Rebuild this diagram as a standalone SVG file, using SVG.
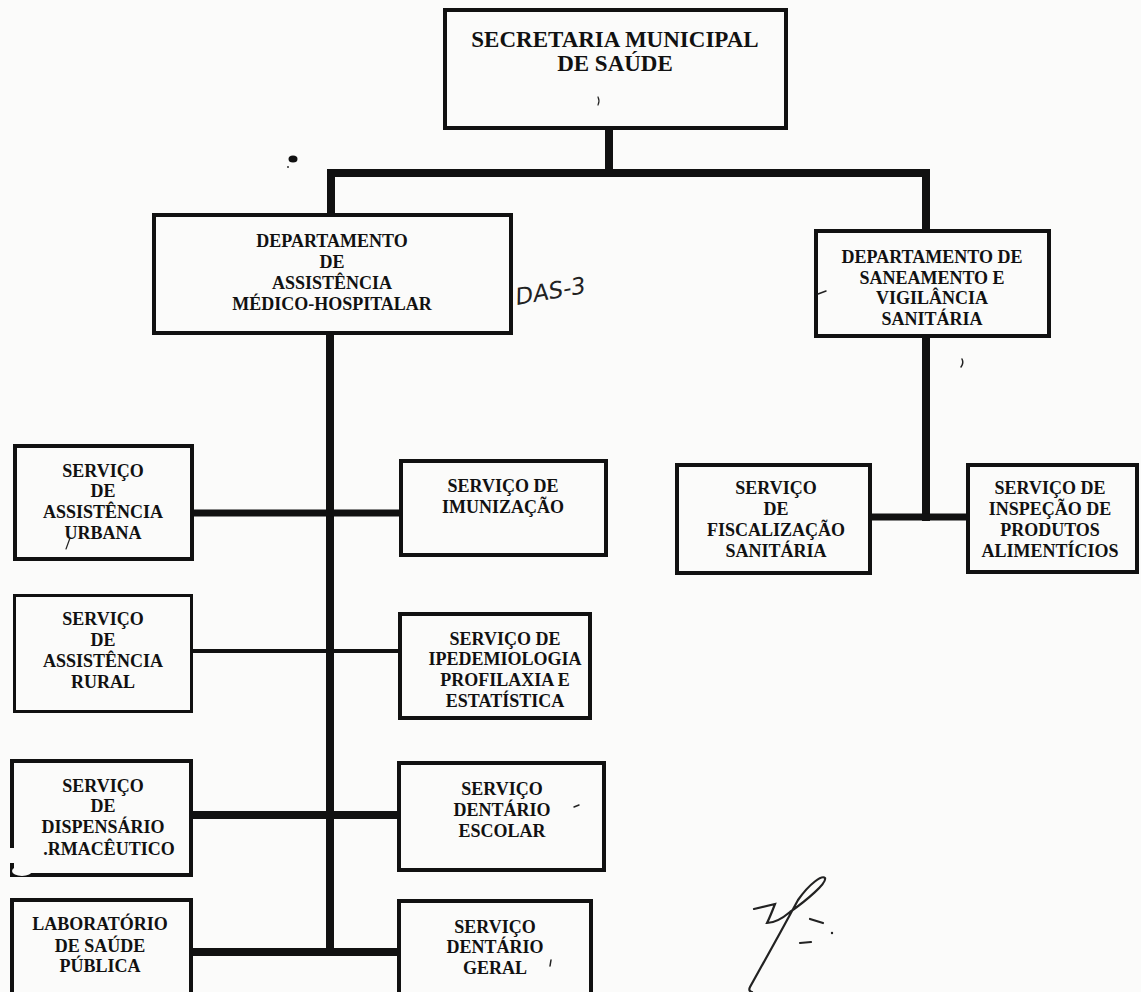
<svg xmlns="http://www.w3.org/2000/svg" width="1141" height="992" viewBox="0 0 1141 992">
  <style>
    .box { fill: none; stroke: #111; stroke-width: 4; }
    .thin { stroke-width: 3; }
    .t { font-family: "Liberation Serif", "Times New Roman", serif; font-weight: bold; font-size: 18px; fill: #111; text-anchor: middle; }
    .big { font-size: 23px; }
    .c { stroke: #111; fill: none; stroke-linecap: butt; }
    .mark { stroke: #222; fill: none; stroke-linecap: round; }
  </style>
  <rect x="0" y="0" width="1141" height="992" fill="#fbfbfa"/>

  <g id="connectors">
    <line class="c" x1="609" y1="128" x2="609" y2="177" stroke-width="8"/>
    <line class="c" x1="327" y1="173" x2="930" y2="173" stroke-width="8"/>
    <line class="c" x1="331" y1="173" x2="331" y2="215" stroke-width="8"/>
    <line class="c" x1="926" y1="173" x2="926" y2="231" stroke-width="8"/>
    <line class="c" x1="330" y1="333" x2="330" y2="956" stroke-width="8"/>
    <line class="c" x1="926" y1="336" x2="926" y2="521" stroke-width="8"/>
    <line class="c" x1="192" y1="513" x2="401" y2="513" stroke-width="7"/>
    <line class="c" x1="191" y1="651" x2="400" y2="651" stroke-width="4"/>
    <line class="c" x1="191" y1="815" x2="399" y2="815" stroke-width="8"/>
    <line class="c" x1="191" y1="952" x2="399" y2="952" stroke-width="8"/>
    <line class="c" x1="870" y1="517" x2="968" y2="517" stroke-width="7"/>
  </g>

  <g id="secretaria">
    <rect class="box" x="445" y="10" width="341" height="118"/>
    <text class="t big" x="615" y="47">SECRETARIA MUNICIPAL</text>
    <text class="t big" x="615" y="71">DE SAÚDE</text>
  </g>

  <g id="dep-assistencia">
    <rect class="box" x="154" y="215" width="357" height="118"/>
    <text class="t" x="332" y="247">DEPARTAMENTO</text>
    <text class="t" x="332" y="268">DE</text>
    <text class="t" x="332" y="289">ASSISTÊNCIA</text>
    <text class="t" x="332" y="310">MÉDICO-HOSPITALAR</text>
  </g>

  <g id="dep-saneamento">
    <rect class="box" x="816" y="231" width="233" height="105"/>
    <text class="t" x="932" y="263">DEPARTAMENTO DE</text>
    <text class="t" x="932" y="283.5">SANEAMENTO E</text>
    <text class="t" x="932" y="304">VIGILÂNCIA</text>
    <text class="t" x="932" y="324.5">SANITÁRIA</text>
  </g>

  <g id="srv-urbana">
    <rect class="box" x="15" y="446" width="177" height="113"/>
    <text class="t" x="103" y="477">SERVIÇO</text>
    <text class="t" x="103" y="497">DE</text>
    <text class="t" x="103" y="518">ASSISTÊNCIA</text>
    <text class="t" x="103" y="539">URBANA</text>
  </g>

  <g id="srv-rural">
    <rect class="box thin" x="14.5" y="595.5" width="177" height="116"/>
    <text class="t" x="103" y="625">SERVIÇO</text>
    <text class="t" x="103" y="646">DE</text>
    <text class="t" x="103" y="667">ASSISTÊNCIA</text>
    <text class="t" x="103" y="688">RURAL</text>
  </g>

  <g id="srv-dispensario">
    <rect class="box" x="12" y="761" width="179" height="114"/>
    <rect x="7" y="848" width="10" height="15" fill="#fbfbfa"/>
    <ellipse cx="22" cy="871" rx="10" ry="5" fill="#fbfbfa"/>
    <text class="t" x="103" y="792">SERVIÇO</text>
    <text class="t" x="103" y="812">DE</text>
    <text class="t" x="103" y="833">DISPENSÁRIO</text>
    <text class="t" x="109" y="855">.RMACÊUTICO</text>
  </g>

  <g id="laboratorio">
    <rect class="box" x="12" y="900" width="179" height="96"/>
    <text class="t" x="100" y="930">LABORATÓRIO</text>
    <text class="t" x="100" y="952">DE SAÚDE</text>
    <text class="t" x="100" y="972">PÚBLICA</text>
  </g>

  <g id="srv-imunizacao">
    <rect class="box" x="401" y="461" width="205" height="94"/>
    <text class="t" x="503" y="492">SERVIÇO DE</text>
    <text class="t" x="503" y="513">IMUNIZAÇÃO</text>
  </g>

  <g id="srv-epidemiologia">
    <rect class="box" x="400" y="614" width="190" height="104" stroke-width="5"/>
    <text class="t" x="505" y="645">SERVIÇO DE</text>
    <text class="t" x="505" y="665">IPEDEMIOLOGIA</text>
    <text class="t" x="505" y="686">PROFILAXIA E</text>
    <text class="t" x="505" y="707">ESTATÍSTICA</text>
  </g>

  <g id="srv-dentario-escolar">
    <rect class="box" x="399" y="763" width="205" height="107"/>
    <text class="t" x="502" y="795">SERVIÇO</text>
    <text class="t" x="502" y="816">DENTÁRIO</text>
    <text class="t" x="502" y="837">ESCOLAR</text>
  </g>

  <g id="srv-dentario-geral">
    <rect class="box" x="399" y="901" width="192" height="95"/>
    <text class="t" x="495" y="933">SERVIÇO</text>
    <text class="t" x="495" y="953">DENTÁRIO</text>
    <text class="t" x="495" y="974">GERAL</text>
  </g>

  <g id="srv-fiscalizacao">
    <rect class="box" x="677" y="465" width="193" height="108"/>
    <text class="t" x="776" y="494">SERVIÇO</text>
    <text class="t" x="776" y="515">DE</text>
    <text class="t" x="776" y="536">FISCALIZAÇÃO</text>
    <text class="t" x="776" y="557">SANITÁRIA</text>
  </g>

  <g id="srv-inspecao">
    <rect class="box" x="968" y="465" width="169" height="107"/>
    <text class="t" x="1050" y="494">SERVIÇO DE</text>
    <text class="t" x="1050" y="515">INSPEÇÃO DE</text>
    <text class="t" x="1050" y="536">PRODUTOS</text>
    <text class="t" x="1050" y="557">ALIMENTÍCIOS</text>
  </g>

  <g id="annotations">
    <text x="517" y="305" transform="rotate(-10 517 305)" font-family="DejaVu Sans, sans-serif" font-style="italic" font-size="23" fill="#222">DAS-3</text>
    <ellipse cx="293" cy="159" rx="4.5" ry="3.5" fill="#111"/>
    <circle cx="288" cy="167" r="1" fill="#333"/>
    <path class="mark" stroke-width="1.2" d="M598 97 q2 4 0 8"/>
    <path class="mark" stroke-width="1.5" d="M962 359 q2 4 -1 8"/>
    <path class="mark" stroke-width="1.2" d="M70 538 L66 549"/>
    <path class="mark" stroke-width="1.5" d="M818 294 L826 291"/>
    <path class="mark" stroke-width="1.5" d="M574 807 L579 805"/>
    <path class="mark" stroke-width="1.5" d="M551 960 L550 966"/>
    <path class="mark" stroke-width="2.2" d="M754 909 L775 904 Q770 917 767 923 Q777 923 790 912 C807 900 827 883 825 878 C822 875 810 883 798 900 L780 933 L750 987 Q748 991 752 992"/>
    <path class="mark" stroke-width="2.2" d="M810 919 L823 923 M800 943 L811 942"/>
    <circle cx="832" cy="933" r="1.2" fill="#222"/>
  </g>
</svg>
